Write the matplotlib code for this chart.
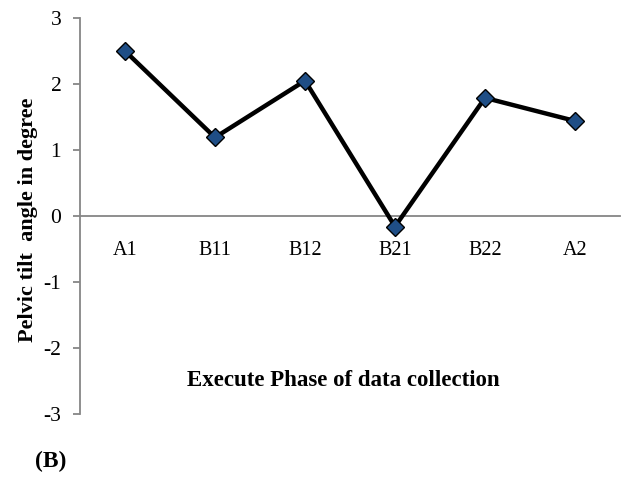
import matplotlib
matplotlib.use("Agg")
import matplotlib.pyplot as plt

categories = ["A1", "B11", "B12", "B21", "B22", "A2"]
values = [2.50, 1.19, 2.05, -0.16, 1.79, 1.44]
yticks = [-3, -2, -1, 0, 1, 2, 3]

plt.rcParams['font.family'] = ['Liberation Serif', 'DejaVu Serif']

fig = plt.figure(figsize=(6.44, 4.78), dpi=100)
ax = fig.add_axes([80/644, 1 - 414/478, 540/644, (414 - 18)/478])

x = list(range(len(categories)))
ax.plot(x, values, color='black', lw=3.2, marker='D', markersize=9,
        markerfacecolor='#1F4E86', markeredgecolor='black', markeredgewidth=1.0,
        zorder=3, clip_on=False)

ax.set_xlim(-0.5, len(categories) - 0.5)
ax.set_ylim(-3, 3)

for s in ['top', 'right']:
    ax.spines[s].set_visible(False)
ax.spines['bottom'].set_position(('data', 0))
ax.spines['bottom'].set_color('#868686')
ax.spines['left'].set_color('#868686')
ax.spines['bottom'].set_linewidth(1.3)
ax.spines['left'].set_linewidth(1.3)

ax.set_yticks(yticks)
ax.set_yticklabels([str(v) for v in yticks])
ax.set_xticks(x)
ax.set_xticklabels(categories)
ax.tick_params(axis='y', direction='out', length=5, color='#868686', width=1.3,
               pad=8.5, labelsize=15.5)
ax.tick_params(axis='x', length=0, pad=18, labelsize=14.5)

fig.text(28/644, 1 - 220/478, "Pelvic tilt  angle in degree", rotation=90,
         ha='center', va='center', fontsize=16, fontweight='bold')
fig.text(343/644, 1 - 380/478, "Execute Phase of data collection",
         ha='center', va='center', fontsize=16.5, fontweight='bold')
fig.text(51/644, 1 - 461/478, "(B)", ha='center', va='center', fontsize=17,
         fontweight='bold')

fig.savefig("out.png", dpi=100)
